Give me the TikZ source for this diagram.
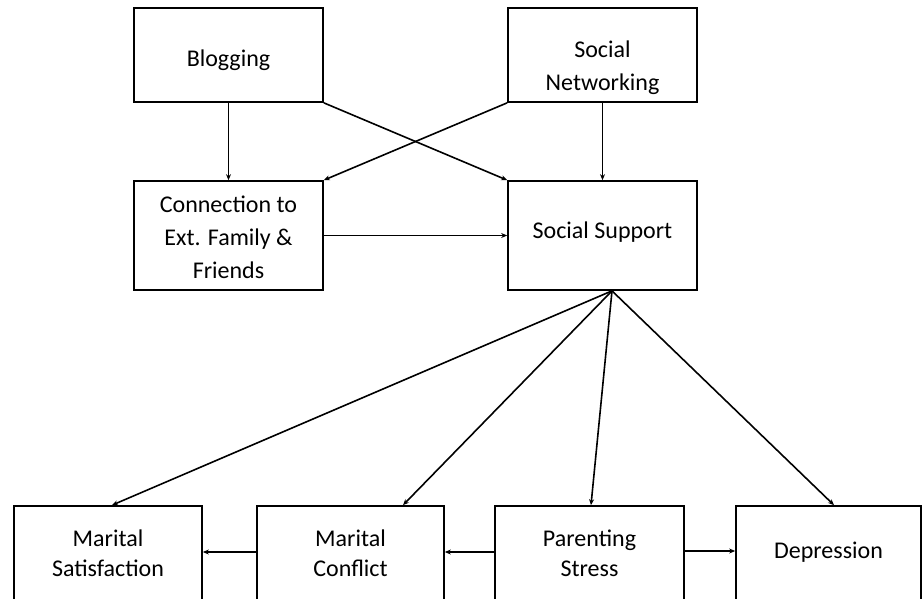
\documentclass[tikz,border=0pt]{standalone}
\usepackage{fontspec}
\setmainfont{Carlito}
\usetikzlibrary{arrows.meta}
\begin{document}
\begin{tikzpicture}[x=1pt,y=-1pt,
  box/.style={draw=black,line width=1.7pt,minimum width=#1,inner sep=0pt},
  txt/.style={align=center,font=\fontsize{24}{33}\selectfont,inner sep=0pt},
  txtb/.style={align=center,font=\fontsize{24}{30}\selectfont,inner sep=0pt},
  arr/.style={line width=1.6pt,-{Stealth[length=6pt,width=5pt]}}]
\useasboundingbox (0,0) rectangle (922,598);
\clip (0,0) rectangle (922,598);
% boxes
\node[box=189pt,minimum height=94pt] (blog) at (228.5,55) {};
\node[box=189pt,minimum height=94pt] (soc) at (602.5,55) {};
\node[box=189pt,minimum height=109pt] (conn) at (228.5,235.5) {};
\node[box=189pt,minimum height=109pt] (supp) at (602.5,235.5) {};
\node[box=188pt,minimum height=94pt] (ms) at (108,553) {};
\node[box=187pt,minimum height=94pt] (mc) at (350.5,553) {};
\node[box=189pt,minimum height=94pt] (ps) at (589.5,553) {};
\node[box=185pt,minimum height=94pt] (dep) at (828.5,553) {};
% texts
\node[txt] (blogT) at ([yshift=-5pt]blog.center) {Blogging};
\node[txt] (socT) at ([yshift=-13pt]soc.center) {Social\\Networking};
\node[txt] (connT) at ([yshift=-2pt]conn.center) {Connection to\\Ext. Family \&\\Friends};
\node[txt] (suppT) at ([yshift=3pt]supp.center) {Social Support};
\node[txtb] (msT) at (ms.center) {Marital\\Satisfaction};
\node[txtb] (mcT) at (mc.center) {Marital\\Conflict};
\node[txtb] (psT) at (ps.center) {Parenting\\Stress};
\node[txt] (depT) at ([yshift=1pt]dep.center) {Depression};
% top connectors
\draw[arr] (blog.south) -- (conn.north);
\draw[arr] (soc.south) -- (supp.north);
\draw[arr] (blog.south east) -- (supp.north west);
\draw[arr] (soc.south west) -- (conn.north east);
\draw[arr] (conn.east) -- (supp.west);
% fan
\coordinate (fan) at ([xshift=9.5pt]supp.south);
\draw[arr] (fan) -- ([xshift=4pt]ms.north);
\draw[arr] (fan) -- ([xshift=52.5pt]mc.north);
\draw[arr] (fan) -- ([xshift=1.5pt]ps.north);
\draw[arr] (fan) -- ([xshift=5.5pt]dep.north);
% bottom connectors
\draw[arr] ([yshift=1pt]mc.west) -- ([yshift=1pt]ms.east);
\draw[arr] ([yshift=1pt]ps.west) -- ([yshift=1pt]mc.east);
\draw[arr] ([yshift=2pt]ps.east) -- ([yshift=2pt]dep.west);
\end{tikzpicture}
\end{document}
